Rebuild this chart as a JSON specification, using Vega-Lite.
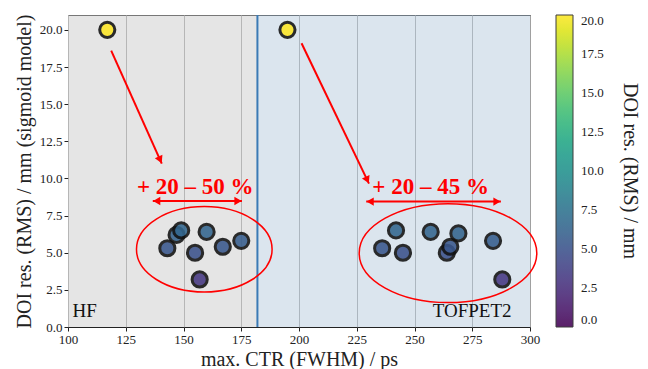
{
  "$schema": "https://vega.github.io/schema/vega-lite/v6.json",
  "width": 462,
  "height": 312,
  "autosize": "none",
  "padding": {"left": 68, "top": 15, "right": 118, "bottom": 42},
  "background": "white",
  "config": {
    "font": "Liberation Serif",
    "view": {"stroke": "#222", "strokeWidth": 1},
    "axis": {
      "labelFont": "Liberation Serif", "titleFont": "Liberation Serif",
      "labelFontSize": 13, "titleFontSize": 20, "titleFontWeight": "normal",
      "labelColor": "#222", "titleColor": "#222", "tickColor": "#222",
      "domain": false, "gridColor": "#a0a0a0", "gridOpacity": 1, "tickSize": 4,
      "labelOverlap": false, "labelFlush": false
    },
    "legend": {
      "labelFont": "Liberation Serif", "titleFont": "Liberation Serif",
      "labelFontSize": 13, "titleFontSize": 20, "titleFontWeight": "normal",
      "labelColor": "#222", "titleColor": "#222", "labelOverlap": false
    }
  },
  "datasets": {
    "points": [
      {"ctr": 117, "doi": 20.0, "readout": "HF"},
      {"ctr": 143, "doi": 5.3, "readout": "HF"},
      {"ctr": 147, "doi": 6.2, "readout": "HF"},
      {"ctr": 149, "doi": 6.5, "readout": "HF"},
      {"ctr": 155, "doi": 5.0, "readout": "HF"},
      {"ctr": 157, "doi": 3.2, "readout": "HF"},
      {"ctr": 160, "doi": 6.4, "readout": "HF"},
      {"ctr": 167, "doi": 5.4, "readout": "HF"},
      {"ctr": 175, "doi": 5.8, "readout": "HF"},
      {"ctr": 195, "doi": 20.0, "readout": "TOFPET2"},
      {"ctr": 236, "doi": 5.3, "readout": "TOFPET2"},
      {"ctr": 242, "doi": 6.5, "readout": "TOFPET2"},
      {"ctr": 245, "doi": 5.0, "readout": "TOFPET2"},
      {"ctr": 257, "doi": 6.4, "readout": "TOFPET2"},
      {"ctr": 269, "doi": 6.3, "readout": "TOFPET2"},
      {"ctr": 264, "doi": 5.0, "readout": "TOFPET2"},
      {"ctr": 265.5, "doi": 5.4, "readout": "TOFPET2"},
      {"ctr": 284, "doi": 5.8, "readout": "TOFPET2"},
      {"ctr": 288, "doi": 3.2, "readout": "TOFPET2"}
    ],
    "regions": [
      {"x0": 100, "x1": 182, "region": "HF"},
      {"x0": 182, "x1": 300, "region": "TOFPET2"}
    ],
    "diag": [
      {"x0": 118.7, "y0": 18.6, "x1": 140.6, "y1": 11.0, "hx": 139.9, "hy": 11.25},
      {"x0": 201.1, "y0": 19.1, "x1": 230.3, "y1": 9.65, "hx": 229.55, "hy": 9.89}
    ],
    "horiz": [
      {"x0": 136.7, "x1": 175.3, "y": 8.48},
      {"x0": 229.1, "x1": 287.4, "y": 8.44}
    ],
    "hheads": [
      {"x": 138.4, "y": 8.48, "end": "left"},
      {"x": 173.6, "y": 8.48, "end": "right"},
      {"x": 230.8, "y": 8.44, "end": "left"},
      {"x": 285.7, "y": 8.44, "end": "right"}
    ],
    "gain": [
      {"x": 155.1, "y": 9.45, "label": "+ 20 – 50 %"},
      {"x": 257, "y": 9.45, "label": "+ 20 – 45 %"}
    ]
  },
  "encoding": {
    "y": {"type": "quantitative",
          "scale": {"domain": [0, 21], "nice": false},
          "axis": {"values": [0, 2.5, 5, 7.5, 10, 12.5, 15, 17.5, 20], "format": ".1f", "labelOverlap": false,
                   "title": "DOI res. (RMS) / mm (sigmoid model)", "titlePadding": 5}}
  },
  "layer": [
    {
      "data": {"name": "regions"},
      "mark": {"type": "rect", "opacity": 0.5},
      "encoding": {
        "x": {"field": "x0", "type": "quantitative",
              "scale": {"domain": [100, 300], "nice": false},
              "axis": {"values": [100, 125, 150, 175, 200, 225, 250, 275, 300], "title": "max. CTR (FWHM) / ps", "titlePadding": 3}},
        "x2": {"field": "x1"},
        "y": {"datum": 0, "type": "quantitative"},
        "y2": {"datum": 21},
        "color": {"field": "region", "type": "nominal",
                  "scale": {"domain": ["HF", "TOFPET2"], "range": ["#cbcbcb", "#b7cbdd"]}, "legend": null}
      }
    },
    {
      "data": {"values": [{"boundary": 182}]},
      "mark": {"type": "rule", "color": "#3b7ab5", "strokeWidth": 2},
      "encoding": {"x": {"field": "boundary", "type": "quantitative"}, "y": {"datum": 0, "type": "quantitative"}, "y2": {"datum": 21}}
    },
    {
      "data": {"values": [{"x": 159, "y": 5.23}]},
      "mark": {"type": "point", "filled": false, "color": "red", "strokeWidth": 1.5, "opacity": 1,
               "shape": "M -1 0 A 1 0.63 0 1 1 1 0 A 1 0.63 0 1 1 -1 0 Z", "size": 18387},
      "encoding": {
        "x": {"field": "x", "type": "quantitative"},
        "y": {"field": "y", "type": "quantitative"}
      }
    },
    {
      "data": {"values": [{"x": 264.5, "y": 4.97}]},
      "mark": {"type": "point", "filled": false, "color": "red", "strokeWidth": 1.5, "opacity": 1,
               "shape": "M -1 0 A 1 0.557 0 1 1 1 0 A 1 0.557 0 1 1 -1 0 Z", "size": 31542},
      "encoding": {
        "x": {"field": "x", "type": "quantitative"},
        "y": {"field": "y", "type": "quantitative"}
      }
    },
    {
      "data": {"name": "diag"},
      "mark": {"type": "rule", "color": "red", "strokeWidth": 2},
      "encoding": {
        "x": {"field": "x0", "type": "quantitative"},
        "y": {"field": "y0", "type": "quantitative"},
        "x2": {"field": "x1"},
        "y2": {"field": "y1"}
      }
    },
    {
      "data": {"name": "diag"},
      "mark": {"type": "point", "shape": "triangle-up", "filled": true, "color": "red", "size": 70, "angle": 155, "opacity": 1},
      "encoding": {
        "x": {"field": "hx", "type": "quantitative"},
        "y": {"field": "hy", "type": "quantitative"}
      }
    },
    {
      "data": {"name": "horiz"},
      "mark": {"type": "rule", "color": "red", "strokeWidth": 2},
      "encoding": {
        "x": {"field": "x0", "type": "quantitative"},
        "x2": {"field": "x1"},
        "y": {"field": "y", "type": "quantitative"}
      }
    },
    {
      "data": {"name": "hheads"},
      "mark": {"type": "point", "filled": true, "color": "red", "size": 70, "opacity": 1},
      "encoding": {
        "x": {"field": "x", "type": "quantitative"},
        "y": {"field": "y", "type": "quantitative"},
        "shape": {"field": "end", "type": "nominal",
                  "scale": {"domain": ["left", "right"], "range": ["triangle-left", "triangle-right"]}, "legend": null}
      }
    },
    {
      "data": {"name": "gain"},
      "mark": {"type": "text", "color": "red", "font": "Liberation Serif", "fontWeight": "bold", "fontSize": 23, "baseline": "middle", "align": "center"},
      "encoding": {
        "x": {"field": "x", "type": "quantitative"},
        "y": {"field": "y", "type": "quantitative"},
        "text": {"field": "label"}
      }
    },
    {
      "data": {"name": "points"},
      "mark": {"type": "point", "filled": true, "size": 230, "stroke": "#111", "strokeWidth": 3, "opacity": 0.88, "strokeOpacity": 1},
      "encoding": {
        "x": {"field": "ctr", "type": "quantitative"},
        "y": {"field": "doi", "type": "quantitative"},
        "fill": {"field": "doi", "type": "quantitative",
                 "scale": {"scheme": "viridis", "domain": [0, 20]},
                 "legend": {"title": "DOI res. (RMS) / mm", "titleOrient": "right", "orient": "right", "offset": 26,
                            "gradientLength": 312, "gradientThickness": 17, "values": [0, 2.5, 5, 7.5, 10, 12.5, 15, 17.5, 20],
                            "format": ".1f", "labelOffset": 8, "labelBaseline": "middle", "gradientStrokeColor": "#222", "gradientStrokeWidth": 1,
                            "titleAnchor": "middle", "direction": "vertical", "titlePadding": 16}}
      }
    },
    {
      "data": {"values": [{"x": 102, "y": 0.4, "label": "HF"}]},
      "mark": {"type": "text", "align": "left", "baseline": "bottom", "fontSize": 19, "color": "#111", "font": "Liberation Serif"},
      "encoding": {
        "x": {"field": "x", "type": "quantitative"},
        "y": {"field": "y", "type": "quantitative"},
        "text": {"field": "label"}
      }
    },
    {
      "data": {"values": [{"x": 292, "y": 0.4, "label": "TOFPET2"}]},
      "mark": {"type": "text", "align": "right", "baseline": "bottom", "fontSize": 19, "color": "#111", "font": "Liberation Serif"},
      "encoding": {
        "x": {"field": "x", "type": "quantitative"},
        "y": {"field": "y", "type": "quantitative"},
        "text": {"field": "label"}
      }
    }
  ]
}
